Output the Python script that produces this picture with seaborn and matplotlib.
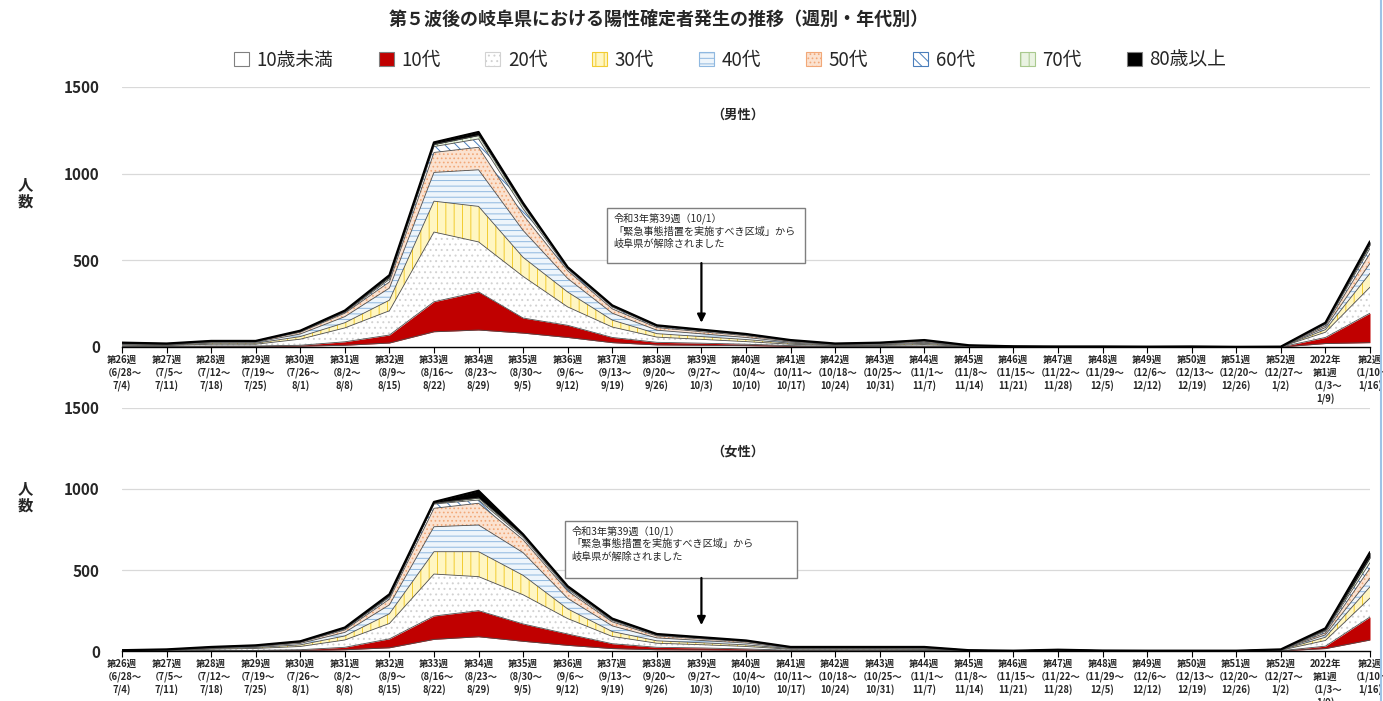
import numpy as np
import pandas as pd
import matplotlib
matplotlib.use("Agg")
from matplotlib import pyplot as plt
from matplotlib.patches import Patch, Rectangle
from matplotlib.lines import Line2D
import seaborn as sns

# week labels
week_labels = [
    "第26週\n（6/28～\n7/4)", "第27週\n（7/5～\n7/11)", "第28週\n（7/12～\n7/18)",
    "第29週\n（7/19～\n7/25)", "第30週\n（7/26～\n8/1)", "第31週\n（8/2～\n8/8)",
    "第32週\n（8/9～\n8/15)", "第33週\n（8/16～\n8/22)", "第34週\n（8/23～\n8/29)",
    "第35週\n（8/30～\n9/5)", "第36週\n（9/6～\n9/12)", "第37週\n（9/13～\n9/19)",
    "第38週\n（9/20～\n9/26)", "第39週\n（9/27～\n10/3)", "第40週\n（10/4～\n10/10)",
    "第41週\n（10/11～\n10/17)", "第42週\n（10/18～\n10/24)", "第43週\n（10/25～\n10/31)",
    "第44週\n（11/1～\n11/7)", "第45週\n（11/8～\n11/14)", "第46週\n（11/15～\n11/21)",
    "第47週\n（11/22～\n11/28)", "第48週\n（11/29～\n12/5)", "第49週\n（12/6～\n12/12)",
    "第50週\n（12/13～\n12/19)", "第51週\n（12/20～\n12/26)", "第52週\n（12/27～\n1/2)",
    "2022年\n第1週\n（1/3～\n1/9)", "第2週\n（1/10～\n1/16)",
]
age_groups = ["10歳未満", "10代", "20代", "30代", "40代", "50代", "60代", "70代", "80歳以上"]

# male (weekly counts per age group)
m_u10 = [2, 1, 3, 3, 5, 10, 23, 88, 98, 80, 55, 25, 12, 10, 8, 4, 2, 2, 3, 1, 0, 0, 0, 0, 0, 0, 0, 20, 25]
m_10s = [2, 2, 3, 3, 5, 20, 46, 173, 220, 87, 70, 30, 15, 12, 8, 4, 2, 2, 3, 1, 0, 0, 0, 0, 0, 0, 0, 35, 170]
m_20s = [6, 5, 10, 10, 35, 80, 140, 402, 288, 240, 106, 60, 30, 22, 15, 8, 4, 5, 8, 2, 1, 1, 1, 1, 1, 0, 1, 30, 150]
m_30s = [4, 3, 6, 6, 15, 30, 61, 178, 205, 110, 86, 40, 20, 16, 12, 6, 3, 4, 7, 2, 1, 0, 1, 0, 1, 0, 0, 15, 80]
m_40s = [4, 3, 5, 5, 15, 35, 70, 166, 211, 155, 78, 40, 20, 16, 12, 6, 3, 4, 6, 1, 1, 1, 0, 1, 0, 1, 0, 12, 58]
m_50s = [3, 2, 4, 4, 10, 20, 35, 115, 130, 90, 45, 25, 15, 12, 10, 5, 3, 4, 6, 1, 1, 0, 1, 0, 1, 0, 1, 10, 57]
m_60s = [2, 2, 2, 2, 4, 5, 15, 34, 48, 35, 10, 10, 6, 6, 5, 3, 1, 2, 3, 1, 0, 1, 0, 0, 0, 0, 0, 8, 29]
m_70s = [1, 1, 1, 1, 3, 5, 12, 12, 20, 18, 5, 5, 4, 3, 3, 2, 1, 1, 2, 0, 0, 0, 0, 0, 0, 0, 0, 5, 20]
m_80p = [1, 1, 1, 1, 2, 5, 12, 12, 20, 15, 5, 5, 3, 3, 2, 2, 1, 1, 2, 1, 0, 0, 0, 0, 0, 0, 0, 5, 20]

# female
f_u10 = [0, 0, 1, 2, 3, 8, 20, 72, 88, 60, 35, 15, 8, 7, 5, 2, 2, 2, 2, 0, 0, 1, 0, 0, 0, 0, 1, 15, 68]
f_10s = [0, 1, 2, 2, 5, 15, 55, 144, 161, 107, 70, 30, 15, 12, 8, 3, 3, 3, 2, 1, 0, 1, 0, 0, 0, 0, 1, 15, 142]
f_20s = [2, 3, 8, 12, 20, 45, 95, 259, 210, 180, 95, 45, 25, 20, 15, 6, 6, 6, 6, 1, 1, 2, 1, 1, 1, 1, 3, 35, 117]
f_30s = [1, 2, 4, 6, 10, 25, 60, 138, 154, 120, 60, 30, 15, 12, 10, 4, 4, 4, 4, 1, 0, 1, 1, 0, 0, 0, 2, 20, 70]
f_40s = [1, 1, 4, 5, 9, 22, 55, 154, 165, 140, 65, 35, 18, 14, 11, 4, 4, 4, 4, 1, 1, 1, 0, 1, 0, 1, 1, 15, 53]
f_50s = [1, 1, 3, 4, 6, 15, 35, 114, 134, 80, 45, 25, 12, 10, 8, 3, 3, 3, 3, 1, 0, 1, 1, 0, 1, 0, 1, 12, 62]
f_60s = [0, 1, 1, 2, 3, 6, 12, 26, 20, 15, 12, 8, 5, 4, 3, 1, 1, 1, 2, 0, 0, 0, 0, 0, 0, 0, 0, 10, 33]
f_70s = [0, 0, 1, 1, 2, 4, 8, 5, 12, 8, 8, 5, 3, 3, 2, 1, 1, 1, 1, 0, 0, 0, 0, 0, 0, 0, 0, 8, 30]
f_80p = [0, 1, 1, 1, 2, 5, 10, 8, 45, 10, 10, 7, 4, 3, 3, 1, 1, 1, 1, 0, 0, 1, 0, 0, 0, 0, 1, 10, 35]

male = [m_u10, m_10s, m_20s, m_30s, m_40s, m_50s, m_60s, m_70s, m_80p]
female = [f_u10, f_10s, f_20s, f_30s, f_40s, f_50s, f_60s, f_70s, f_80p]

# (facecolor, hatch, hatch colour)
styles = [
    ("white", None, "#808080"),
    ("#C00000", None, "#C00000"),
    ("white", "...", "#D2D2D2"),
    ("#FFF6C2", "||", "#F2CC30"),
    ("#EEF5FB", "---", "#8FB8E0"),
    ("#FBE2D0", "....", "#F2A878"),
    ("white", "\\\\\\", "#4A7EBB"),
    ("#EAF3E2", "||", "#A9C98E"),
    ("black", None, "black"),
]

sns.set_theme(style="white")
plt.rcParams["font.family"] = ["Noto Sans CJK JP", "DejaVu Sans"]
plt.rcParams["hatch.linewidth"] = 0.7

fig = plt.figure(figsize=(13.83, 7.01), dpi=100)
ax1 = fig.add_axes([0.0882, 0.505, 0.9024, 0.371])
ax2 = fig.add_axes([0.0882, 0.0713, 0.9024, 0.3467])

note = "令和3年第39週（10/1）\n「緊急事態措置を実施すべき区域」から\n岐阜県が解除されました"


def draw(ax, layers, subtitle, sub_y, box, arrow_tip):
    x = np.arange(len(week_labels))
    base = np.zeros(len(x))
    rows = []
    for name, vals, (fc, h, hc) in zip(age_groups, layers, styles):
        top = base + np.array(vals, dtype=float)
        ax.fill_between(x, base, top, facecolor=fc, hatch=h, edgecolor=hc, linewidth=0, zorder=2)
        for i, v in enumerate(top):
            rows.append({"x": i, "cum": v, "age": name})
        base = top
    df = pd.DataFrame(rows)
    sns.lineplot(data=df, x="x", y="cum", units="age", estimator=None,
                 color="#4D4D4D", linewidth=0.6, ax=ax, legend=False, zorder=3)
    sns.lineplot(x=x, y=base, color="black", linewidth=1.6, ax=ax, legend=False, zorder=4)

    ax.set_xlim(0, len(x) - 1)
    ax.set_ylim(0, 1500)
    ax.set_yticks([0, 500, 1000, 1500])
    ax.set_yticklabels(["0", "500", "1000", "1500"], fontsize=11, fontweight="bold")
    ax.set_xticks(x)
    ax.set_xticklabels(week_labels, fontsize=6.8, fontweight="bold", linespacing=1.3)
    ax.tick_params(axis="x", direction="out", length=4, width=0.8, color="black", pad=2, bottom=True)
    ax.tick_params(axis="y", length=0, pad=16)
    ax.yaxis.grid(True, color="#D9D9D9", linewidth=0.9, zorder=0)
    ax.xaxis.grid(False)
    ax.set_axisbelow(True)
    for s in ["top", "right", "left"]:
        ax.spines[s].set_visible(False)
    ax.spines["bottom"].set_color("black")
    ax.spines["bottom"].set_linewidth(1.0)
    ax.spines["bottom"].set_zorder(5)
    ax.set_xlabel("")
    ax.set_ylabel("")

    ax.text(0.493, sub_y, subtitle, transform=ax.transAxes, ha="center", va="center",
            fontsize=9.5, fontweight="bold")

    x0, x1, y0, y1 = box
    ax.add_patch(Rectangle((x0, y0), x1 - x0, y1 - y0, facecolor="white",
                           edgecolor="#7F7F7F", linewidth=1.0, zorder=6))
    ax.text(x0 + 0.15, y1 - 25, note, ha="left", va="top", fontsize=7.3,
            linespacing=1.3, zorder=7)
    ax.annotate("", xy=(13, arrow_tip), xytext=(13, y0), zorder=7,
                arrowprops=dict(arrowstyle="-|>", color="black", lw=1.6, mutation_scale=12,
                                shrinkA=0, shrinkB=0))


draw(ax1, male, "（男性）", 0.892, (10.88, 15.32, 484, 801), 140)
draw(ax2, female, "（女性）", 0.82, (9.94, 15.14, 451, 802), 160)

fig.text(0.476, 0.973, "第５波後の岐阜県における陽性確定者発生の推移（週別・年代別）",
         ha="center", va="center", fontsize=13, fontweight="bold")
fig.text(25 / 1383, 1 - 193 / 701, "人\n数", ha="center", va="center", fontsize=11,
         fontweight="bold", linespacing=1.1)
fig.text(25 / 1383, 1 - 497 / 701, "人\n数", ha="center", va="center", fontsize=11,
         fontweight="bold", linespacing=1.1)

handles = []
for fc, h, hc in styles:
    ec = hc if h else "#808080"
    handles.append(Patch(facecolor=fc, hatch=h, edgecolor=ec, linewidth=0.8))
fig.legend(handles, age_groups, loc="center", bbox_to_anchor=(0.528, 0.914), ncol=9,
           frameon=False, fontsize=13.5, handlelength=0.8, handleheight=0.8,
           handletextpad=0.4, columnspacing=2.4)

fig.add_artist(Line2D([0.9985, 0.9985], [0, 1], color="#9DC3E6", linewidth=1.5))

fig.savefig("out.png", dpi=100)
